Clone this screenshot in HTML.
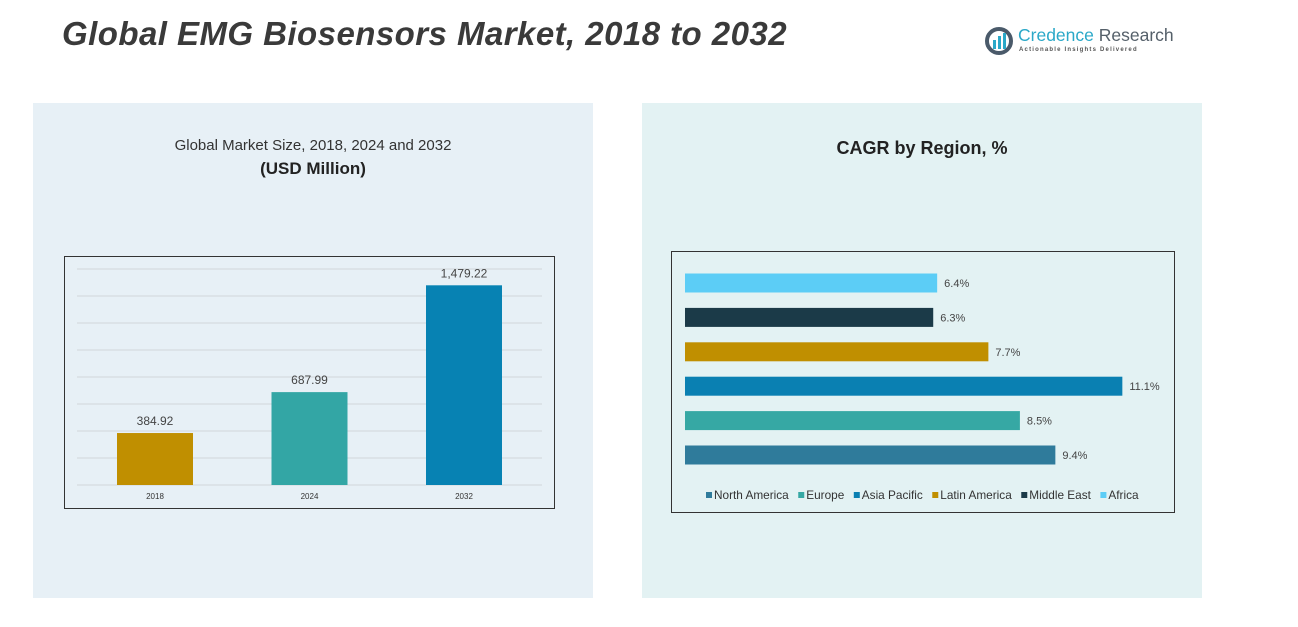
<!DOCTYPE html>
<html><head><meta charset="utf-8"><style>
body{margin:0;width:1298px;height:627px;background:#fff;position:relative;overflow:hidden;font-family:"Liberation Sans",sans-serif;}
.abs{position:absolute;}
</style></head><body>
<div class="abs" style="left:62px;top:15px;font-size:33px;letter-spacing:0.45px;font-weight:bold;font-style:italic;color:#3a3a3a;white-space:nowrap;">Global EMG Biosensors Market, 2018 to 2032</div>
<div class="abs" style="left:984px;top:26px;">
  <svg width="30" height="30"><circle cx="15" cy="15" r="12" fill="none" stroke="#4a5a6a" stroke-width="4"/><rect x="9" y="14" width="3" height="9" fill="#2aa8c8"/><rect x="14" y="10" width="3" height="13" fill="#2aa8c8"/><rect x="19" y="7" width="3" height="16" fill="#2aa8c8"/></svg>
  <span class="abs" style="left:34px;top:-1px;font-size:17.5px;color:#2aa8c8;white-space:nowrap;">Credence <span style="color:#55606a">Research</span></span>
  <span class="abs" style="left:35px;top:21px;font-size:6px;letter-spacing:1.2px;color:#555;white-space:nowrap;font-weight:bold;">Actionable Insights Delivered</span>
</div>
<div class="abs" style="left:33px;top:103px;width:560px;height:495px;background:#e7f0f6;"></div>
<div class="abs" style="left:642px;top:103px;width:560px;height:495px;background:#e3f2f3;"></div>
<div class="abs" style="left:33px;width:560px;top:137px;text-align:center;font-size:15px;color:#333;">Global Market Size, 2018, 2024 and 2032</div>
<div class="abs" style="left:33px;width:560px;top:159px;text-align:center;font-size:17px;font-weight:bold;color:#222;">(USD Million)</div>
<div class="abs" style="left:642px;width:560px;top:138px;text-align:center;font-size:18px;font-weight:bold;color:#222;">CAGR by Region, %</div>
<svg class="abs" style="left:0;top:0" width="1298" height="627" id="svg"></svg>
<script>
const years=["2018","2024","2032"];
const sizes=[384.92,687.99,1479.22];
const sizeLabels=["384.92","687.99","1,479.22"];
const regions=["North America","Europe","Asia Pacific","Latin America","Middle East","Africa"];
const cagr=[9.4,8.5,11.1,7.7,6.3,6.4];
const regionColors=["#2f7b9b","#36a8a4","#0a80b2","#c08f00","#1b3a48","#5ccdf6"];
const barColors=["#c08f00","#33a6a5","#0782b3"];
const NS="http://www.w3.org/2000/svg";
const svg=document.getElementById('svg');
function mk(t,a,p){const e=document.createElementNS(NS,t);for(const k in a)e.setAttribute(k,a[k]);(p||svg).appendChild(e);return e;}
let box=mk('rect',{x:64.5,y:256.5,width:490,height:252,fill:'none',stroke:'#333','stroke-width':1});


const y0=485,yMax=1600,yTop=269;
const ys=v=>y0-(v/yMax)*(y0-yTop);
for(let g=0;g<=1600;g+=200){let l=mk('line',{x1:77,x2:542,y1:ys(g),y2:ys(g),stroke:'#d0d6da','stroke-width':1});

}
const xc=i=>155+i*154.5;
years.forEach((yr,i)=>{
 let r=mk('rect',{x:xc(i)-38,y:ys(sizes[i]),width:76,height:y0-ys(sizes[i]),fill:barColors[i]});
 
 
 let t=mk('text',{x:xc(i),y:ys(sizes[i])-8,'text-anchor':'middle','font-size':12,fill:'#444'});t.textContent=sizeLabels[i];
 
 
 let x=mk('text',{x:xc(i),y:499,'text-anchor':'middle','font-size':8,fill:'#333'});x.textContent=yr;
 
 
});
let box2=mk('rect',{x:671.5,y:251.5,width:503,height:261,fill:'none',stroke:'#333','stroke-width':1});


const xs=v=>685+v*39.4;
const yc=i=>455-i*34.4;
regions.forEach((rg,i)=>{
 let r=mk('rect',{x:685,y:yc(i)-9.5,width:xs(cagr[i])-685,height:19,fill:regionColors[i]});
 
 
 let t=mk('text',{x:xs(cagr[i])+7,y:yc(i)+4,'font-size':11,fill:'#444'});t.textContent=cagr[i].toFixed(1)+'%';
 
 
});
let lx=706;
regions.forEach((rg,i)=>{
 let s=mk('rect',{x:lx,y:492,width:6,height:6,fill:regionColors[i]});
 
 
 let t=mk('text',{x:lx+8,y:499,'font-size':11.8,fill:'#333'});t.textContent=rg;
 
 
 lx+=8+t.getComputedTextLength()+9.5;
});
</script>
</body></html>
